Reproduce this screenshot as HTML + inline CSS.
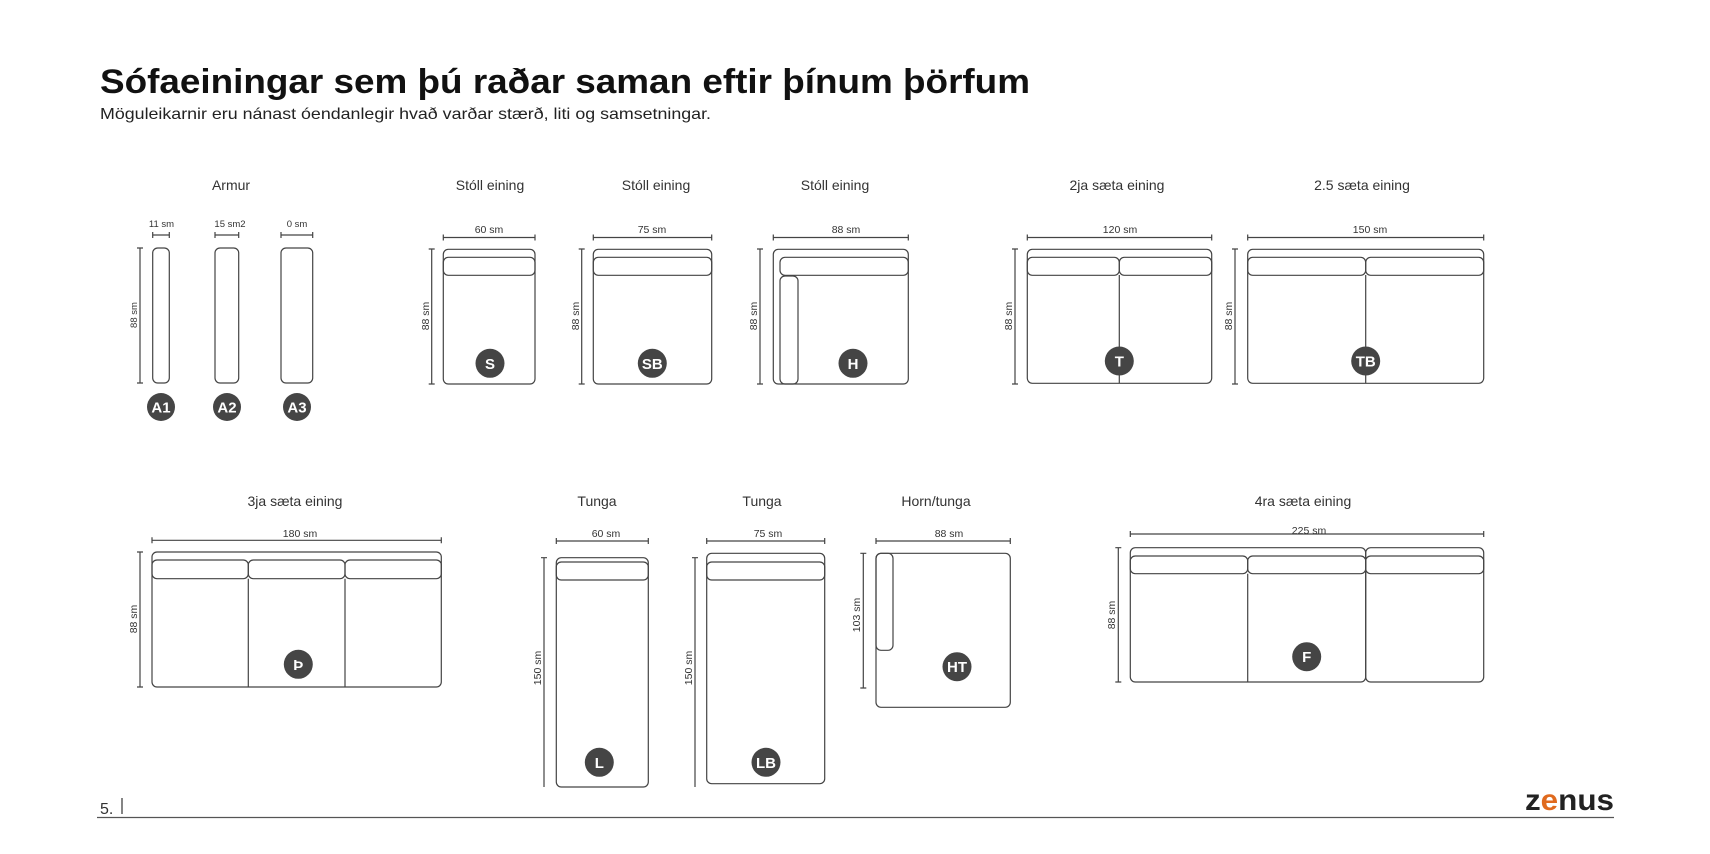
<!DOCTYPE html>
<html><head><meta charset="utf-8"><style>
html,body{margin:0;padding:0;background:#fff;width:1710px;height:854px;overflow:hidden}
svg{display:block}
text{font-family:"Liberation Sans",sans-serif;fill:#222}
.lb{font-size:14px;text-anchor:middle;fill:#333}
.dm{font-size:10.5px;text-anchor:middle;fill:#333}
.ci{font-size:15px;font-weight:bold;text-anchor:middle;fill:#fff}
</style></head><body>
<svg width="1710" height="854" viewBox="0 0 1710 854" xmlns="http://www.w3.org/2000/svg">
<text x="100" y="93" textLength="930" lengthAdjust="spacingAndGlyphs" style="font-size:34px;font-weight:bold;fill:#111">Sófaeiningar sem þú raðar saman eftir þínum þörfum</text>
<text x="100" y="119" textLength="611" lengthAdjust="spacingAndGlyphs" style="font-size:16px;fill:#222">Möguleikarnir eru nánast óendanlegir hvað varðar stærð, liti og samsetningar.</text>

<g fill="none" stroke="#444" stroke-width="1.2">
<rect x="152.7" y="248" width="16.6" height="135" rx="5"/>
<rect x="215" y="248" width="23.7" height="135" rx="5"/>
<rect x="281" y="248" width="31.7" height="135" rx="5"/>
<path d="M152.7 235H169.3M152.7 232v6M169.3 232v6M215 235H238.7M215 232v6M238.7 232v6M281 235H312.7M281 232v6M312.7 232v6"/>
<path d="M140 248V383M137 248h6M137 383h6"/>
<rect x="443.3" y="249.3" width="91.7" height="134.7" rx="5"/>
<rect x="443.3" y="257.3" width="91.7" height="18" rx="5"/>
<path d="M443.3 237.5H535M443.3 234.5v6M535 234.5v6M431.7 249V384M428.7 249h6M428.7 384h6"/>
<rect x="593.3" y="249.3" width="118.4" height="134.7" rx="5"/>
<rect x="593.3" y="257.3" width="118.4" height="18" rx="5"/>
<path d="M593.3 237.5H711.7M593.3 234.5v6M711.7 234.5v6M581.7 249V384M578.7 249h6M578.7 384h6"/>
<rect x="773.3" y="249.3" width="135" height="134.7" rx="5"/>
<rect x="780" y="257.3" width="128.3" height="18" rx="5"/>
<rect x="780" y="276" width="18" height="108" rx="5"/>
<path d="M773.3 237.5H908.3M773.3 234.5v6M908.3 234.5v6M760 249V384M757 249h6M757 384h6"/>
<rect x="1027.3" y="249.3" width="184.4" height="134" rx="5"/>
<rect x="1027.3" y="257.3" width="92" height="18" rx="5"/>
<rect x="1119.3" y="257.3" width="92.4" height="18" rx="5"/>
<path d="M1119.3 275V383.3M1027.3 237.5H1211.7M1027.3 234.5v6M1211.7 234.5v6M1015 249V384M1012 249h6M1012 384h6"/>
<rect x="1247.7" y="249.3" width="236" height="134" rx="5"/>
<rect x="1247.7" y="257.3" width="118" height="18" rx="5"/>
<rect x="1365.7" y="257.3" width="118" height="18" rx="5"/>
<path d="M1365.7 275V383.3M1247.7 237.5H1483.7M1247.7 234.5v6M1483.7 234.5v6M1235 249V384M1232 249h6M1232 384h6"/>
<rect x="152" y="552" width="289.3" height="135" rx="5"/>
<rect x="152" y="560" width="96.3" height="18.7" rx="5"/>
<rect x="248.3" y="560" width="96.7" height="18.7" rx="5"/>
<rect x="345" y="560" width="96.3" height="18.7" rx="5"/>
<path d="M248.3 578.7V687M345 578.7V687M152 540.3H441.3M152 537.3v6M441.3 537.3v6M140 552V687M137 552h6M137 687h6"/>
<rect x="556.3" y="557.7" width="92" height="229.3" rx="5"/>
<rect x="556.3" y="562" width="92" height="18" rx="5"/>
<path d="M556.3 541H648.3M556.3 538v6M648.3 538v6M544 557.7V787M541 557.7h6"/>
<rect x="706.7" y="553.3" width="118" height="230.4" rx="5"/>
<rect x="706.7" y="562" width="118" height="18" rx="5"/>
<path d="M706.7 541H824.7M706.7 538v6M824.7 538v6M695 557.7V787M692 557.7h6"/>
<rect x="876" y="553.3" width="134.3" height="154" rx="5"/>
<rect x="876" y="553.3" width="17" height="97" rx="5"/>
<path d="M876 541H1010.3M876 538v6M1010.3 538v6M863.3 553.3V688M860.3 553.3h6M860.3 688h6"/>
<rect x="1130.3" y="547.7" width="235.4" height="134.3" rx="5"/>
<rect x="1365.7" y="547.7" width="118" height="134.3" rx="5"/>
<rect x="1130.3" y="556" width="117.4" height="17.7" rx="5"/>
<rect x="1247.7" y="556" width="118" height="17.7" rx="5"/>
<rect x="1365.7" y="556" width="118" height="17.7" rx="5"/>
<path d="M1247.7 573.7V682M1130.3 534H1483.7M1130.3 531v6M1483.7 531v6M1118.3 547.7V682M1115.3 547.7h6M1115.3 682h6"/>
</g>

<text class="lb" x="231" y="190">Armur</text>
<text class="lb" x="490" y="190">Stóll eining</text>
<text class="lb" x="656" y="190">Stóll eining</text>
<text class="lb" x="835" y="190">Stóll eining</text>
<text class="lb" x="1117" y="190">2ja sæta eining</text>
<text class="lb" x="1362" y="190">2.5 sæta eining</text>
<text class="lb" x="295" y="506">3ja sæta eining</text>
<text class="lb" x="597" y="506">Tunga</text>
<text class="lb" x="762" y="506">Tunga</text>
<text class="lb" x="936" y="506">Horn/tunga</text>
<text class="lb" x="1303" y="506">4ra sæta eining</text>

<g>
<text class="dm" x="161.5" y="227" style="font-size:9.5px">11 sm</text>
<text class="dm" x="230" y="227" style="font-size:9.5px">15 sm2</text>
<text class="dm" x="297" y="227" style="font-size:9.5px">0 sm</text>
<text class="dm" x="489" y="233">60 sm</text>
<text class="dm" x="652" y="233">75 sm</text>
<text class="dm" x="846" y="233">88 sm</text>
<text class="dm" x="1120" y="233">120 sm</text>
<text class="dm" x="1370" y="233">150 sm</text>
<text class="dm" x="300" y="537">180 sm</text>
<text class="dm" x="606" y="537">60 sm</text>
<text class="dm" x="768" y="537">75 sm</text>
<text class="dm" x="949" y="537">88 sm</text>
<text class="dm" x="1309" y="534">225 sm</text>
<text class="dm" transform="translate(137,315) rotate(-90)" style="font-size:9.5px">88 sm</text>
<text class="dm" transform="translate(429,316) rotate(-90)">88 sm</text>
<text class="dm" transform="translate(579,316) rotate(-90)">88 sm</text>
<text class="dm" transform="translate(757,316) rotate(-90)">88 sm</text>
<text class="dm" transform="translate(1012,316) rotate(-90)">88 sm</text>
<text class="dm" transform="translate(1232,316) rotate(-90)">88 sm</text>
<text class="dm" transform="translate(137,619) rotate(-90)">88 sm</text>
<text class="dm" transform="translate(541,668) rotate(-90)">150 sm</text>
<text class="dm" transform="translate(692,668) rotate(-90)">150 sm</text>
<text class="dm" transform="translate(860,615) rotate(-90)">103 sm</text>
<text class="dm" transform="translate(1115,615) rotate(-90)">88 sm</text>
</g>

<g fill="#454545">
<circle cx="161" cy="407" r="14"/><circle cx="227" cy="407" r="14"/><circle cx="297" cy="407" r="14"/>
<circle cx="490" cy="363.3" r="14.5"/><circle cx="652.3" cy="363.3" r="14.5"/><circle cx="853" cy="363.3" r="14.5"/>
<circle cx="1119.3" cy="361" r="14.5"/><circle cx="1365.7" cy="361" r="14.5"/>
<circle cx="298.3" cy="664.3" r="14.5"/><circle cx="599.3" cy="762.3" r="14.5"/><circle cx="766" cy="762.3" r="14.5"/>
<circle cx="957" cy="666.7" r="14.5"/><circle cx="1306.7" cy="656.7" r="14.5"/>
</g>
<g>
<text class="ci" x="161" y="412.5">A1</text><text class="ci" x="227" y="412.5">A2</text><text class="ci" x="297" y="412.5">A3</text>
<text class="ci" x="490" y="368.8">S</text><text class="ci" x="652.3" y="368.8">SB</text><text class="ci" x="853" y="368.8">H</text>
<text class="ci" x="1119.3" y="366.5">T</text><text class="ci" x="1365.7" y="366.5">TB</text>
<text class="ci" x="298.3" y="669.8">Þ</text><text class="ci" x="599.3" y="767.8">L</text><text class="ci" x="766" y="767.8">LB</text>
<text class="ci" x="957" y="672.2">HT</text><text class="ci" x="1306.7" y="662.2">F</text>
</g>

<text x="100" y="814" style="font-size:16px;fill:#333">5.</text>
<line x1="122" y1="798" x2="122" y2="814" stroke="#333" stroke-width="1.2"/>
<line x1="97" y1="817.5" x2="1614" y2="817.5" stroke="#555" stroke-width="1.3"/>
<text x="1525" y="810" textLength="89" lengthAdjust="spacingAndGlyphs" style="font-size:30px;font-weight:bold;fill:#222">z<tspan style="fill:#e06a1e">e</tspan>nus</text>
</svg>
</body></html>
